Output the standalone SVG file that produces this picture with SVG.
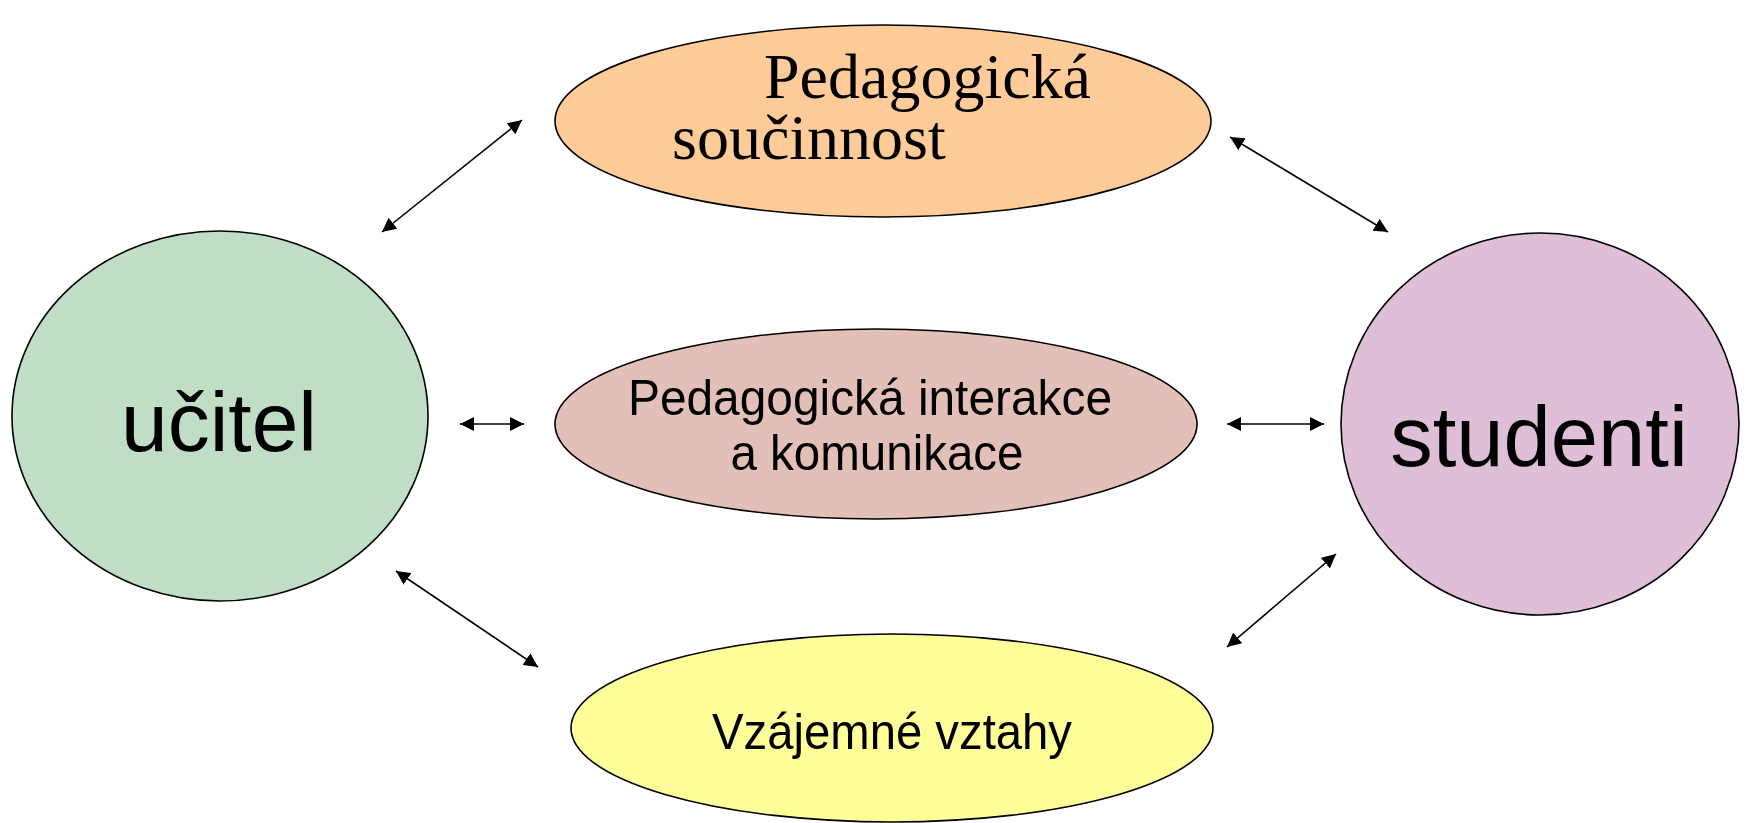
<svg xmlns="http://www.w3.org/2000/svg" width="1748" height="823" viewBox="0 0 1748 823">
<style>
.node{stroke:#000;stroke-width:1.6}
.sans{font-family:"Liberation Sans",Arial,sans-serif;fill:#000}
.serif{font-family:"Liberation Serif","Times New Roman",serif;fill:#000}
.conn line{stroke:#000;stroke-width:1.6;marker-start:url(#ah);marker-end:url(#ah)}
</style>
<defs>
<marker id="ah" viewBox="0 0 14 14" refX="14" refY="7" markerWidth="14" markerHeight="14" markerUnits="userSpaceOnUse" orient="auto-start-reverse">
<path d="M0,0 L14,7 L0,14 z" fill="#000"/>
</marker>
</defs>
<rect width="1748" height="823" fill="#fff"/>
<g id="pedagogicka-soucinnost">
<ellipse class="node" cx="883" cy="121" rx="328" ry="96" fill="#FFCC99"/>
<text class="serif" x="764" y="98" font-size="64">Pedagogická</text>
<text class="serif" x="672" y="159" font-size="64">součinnost</text>
</g>
<g id="ucitel">
<ellipse class="node" cx="220" cy="416" rx="208" ry="185" fill="#C0DDC6"/>
<text class="sans" x="219" y="451" font-size="84" text-anchor="middle">učitel</text>
</g>
<g id="studenti">
<ellipse class="node" cx="1540" cy="424" rx="199" ry="191" fill="#DFBFD7"/>
<text class="sans" x="1539" y="466" font-size="85" text-anchor="middle">studenti</text>
</g>
<g id="interakce">
<ellipse class="node" cx="876" cy="424" rx="321" ry="95" fill="#E2C0B8"/>
<text class="sans" x="870" y="415" font-size="50" text-anchor="middle" textLength="484" lengthAdjust="spacingAndGlyphs">Pedagogická interakce</text>
<text class="sans" x="877" y="470" font-size="50" text-anchor="middle" textLength="293" lengthAdjust="spacingAndGlyphs">a komunikace</text>
</g>
<g id="vztahy">
<ellipse class="node" cx="892" cy="728" rx="321" ry="94" fill="#FFFF99"/>
<text class="sans" x="892" y="749" font-size="50" text-anchor="middle" textLength="360" lengthAdjust="spacingAndGlyphs">Vzájemné vztahy</text>
</g>
<g id="connectors" class="conn">
<line x1="382" y1="232" x2="522" y2="120"/>
<line x1="1230" y1="137" x2="1388" y2="232"/>
<line x1="460" y1="424" x2="524" y2="424"/>
<line x1="1227" y1="424" x2="1324" y2="424"/>
<line x1="396" y1="571" x2="538" y2="667"/>
<line x1="1227" y1="647" x2="1336" y2="554"/>
</g>
</svg>
